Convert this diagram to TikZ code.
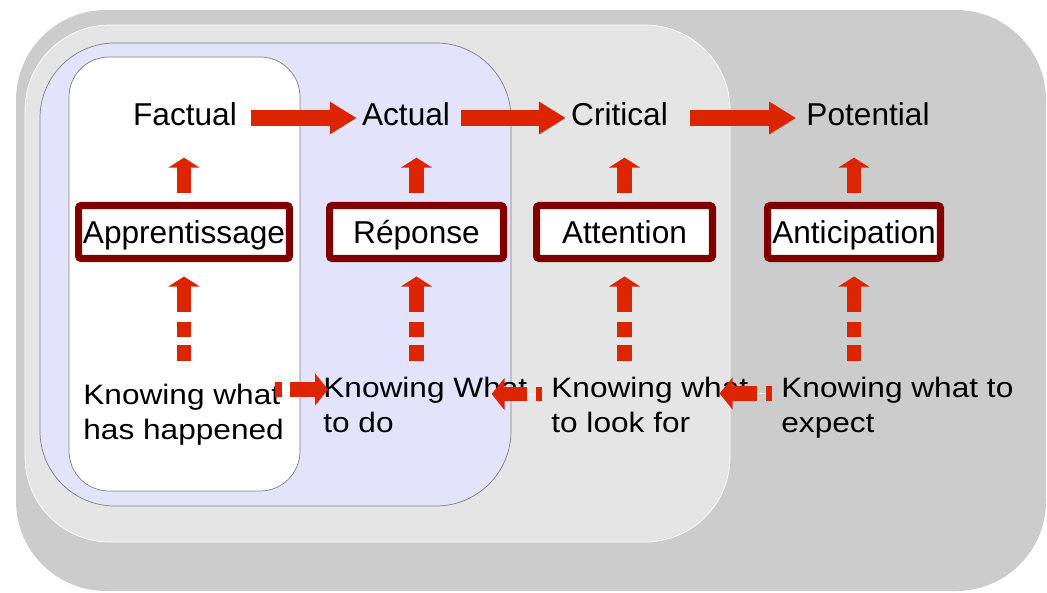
\documentclass[tikz,border=0pt]{standalone}
\usepackage{fontspec}
\setmainfont{Liberation Sans}
\newfontfamily\widefont[FakeStretch=1.125]{Liberation Sans}
\usetikzlibrary{arrows.meta,calc}
\definecolor{arrred}{RGB}{221,36,0}
\definecolor{boxred}{RGB}{128,0,0}
\definecolor{lav}{RGB}{227,227,251}
\definecolor{lgray}{RGB}{229,229,229}
\definecolor{dgray}{RGB}{204,204,204}

\begin{document}
\begin{tikzpicture}
[x=0.02cm,y=-0.02cm,every node/.style={inner sep=0pt},
 level/.style={font=\fontsize{18}{21}\selectfont,anchor=base},
 frame/.style={draw=boxred,line width=4pt,fill=white,rounded corners=1.5pt,minimum height=1.06cm,
   font=\fontsize{18}{21}\selectfont,text height=12.6pt,text depth=0pt},
 know/.style={font=\fontsize{16}{20}\widefont,align=left,anchor=north west},
 bigarr/.style={arrred,line width=9pt,-{Triangle[length=15.3pt,width=17.6pt]}},
 uparr/.style={arrred,line width=8.5pt,-{Triangle[length=5.7pt,width=17.6pt]}},
 dotarr/.style={uparr,dash pattern=on 9pt off 4.5pt on 8.5pt off 5.7pt on 40pt},
 sidearr/.style={arrred,line width=8.5pt,-{Triangle[length=7.4pt,width=18pt]},
   dash pattern=on 3.6pt off 4.8pt on 30pt,preaction={draw=white,solid,-,shorten >=7pt}}]
\useasboundingbox (0,0) rectangle (1047,592);
\fill[dgray,rounded corners=1.8cm] (16,10) rectangle (1046,591);
\draw[white,fill=lgray,rounded corners=1.7cm] (25,25) rectangle (730,542);
\draw[gray,fill=lav,rounded corners=1.5cm] (40,43) rectangle (511,506);
\draw[gray,fill=white,rounded corners=0.8cm] (69,57) rectangle (300,491);

\node[level] (fac) at (185,125) {Factual};
\node[level] (act) at (406,125) {Actual};
\node[level] (cri) at (619.5,125) {Critical};
\node[level] (pot) at (868,125) {Potential};
\node[frame,minimum width=4.22cm] (app) at (184,232) {Apprentissage};
\node[frame,minimum width=3.48cm] (rep) at (416.5,232) {Réponse};
\node[frame,minimum width=3.52cm] (att) at (624.5,232) {Attention};
\node[frame,minimum width=3.46cm] (ant) at (854,232) {Anticipation};
\node[know] (kh) at (83,384) {Knowing what\\has happened};
\node[know] (kd) at (323,377) {Knowing What\\to do};
\node[know] (kl) at (551,377) {Knowing what\\to look for};
\node[know] (ke) at (781,377) {Knowing what to\\expect};

\draw[bigarr] ($(fac.base east)+(14,-7)$) -- ($(act.base west)+(-5,-7)$);
\draw[bigarr] ($(act.base east)+(11,-7)$) -- ($(cri.base west)+(-5,-7)$);
\draw[bigarr] ($(cri.base east)+(22,-7)$) -- ($(pot.base west)+(-10,-7)$);
\foreach \b/\t/\k/\d in {app/fac/kh/23,rep/act/kd/16,att/cri/kl/16,ant/pot/ke/16}{
  \draw[uparr] ($(\b.north)+(0,-8.5)$) -- ($(\b.north |- \t.south)+(0,32)$);
  \draw[dotarr] ($(\b.south |- \k.north)+(0,-\d)$) -- ($(\b.south)+(0,14.5)$);
}
\draw[sidearr] ($(kh.north east)+(-9,5.5)$) -- ($(kd.north west)+(5,12.5)$);
\draw[sidearr] ($(kl.north west)+(-9,17)$) -- ($(kd.north east)+(-36,17)$);
\draw[sidearr] ($(ke.north west)+(-9,16.5)$) -- ($(kl.north east)+(-29,16.5)$);
\end{tikzpicture}
\end{document}
